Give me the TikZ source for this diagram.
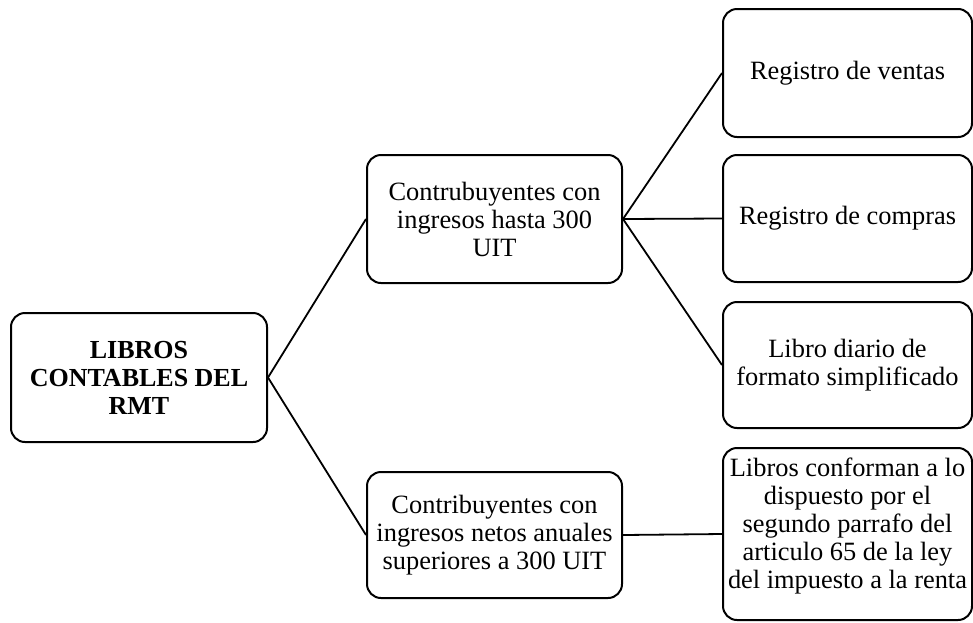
\documentclass[tikz,border=0pt]{standalone}
\usepackage{fontspec}
\setmainfont{Liberation Serif}
\begin{document}
\begin{tikzpicture}[x=1pt,y=-1pt,
  box/.style={draw=black, line width=2pt, rounded corners=14pt, fill=white,
    align=center, inner sep=0pt, font=\fontsize{26.4}{28}\selectfont},
  txt/.style={align=center, inner sep=0pt, font=\fontsize{26.4}{28}\selectfont},
  link/.style={draw=black, line width=1.8pt}]
\useasboundingbox (0,0) rectangle (973,622);
\node[box, minimum width=256pt, minimum height=129pt, font=\fontsize{26}{28}\selectfont\bfseries] (root) at (139,377.5) {LIBROS\\CONTABLES DEL\\RMT};
\node[box, minimum width=255pt, minimum height=128pt] (m1) at (494.5,219) {Contrubuyentes con\\ingresos hasta 300\\UIT};
\node[box, minimum width=255pt, minimum height=126pt] (m2) at (494.5,535) {Contribuyentes con\\ingresos netos anuales\\superiores a 300 UIT};
\node[box, minimum width=249pt, minimum height=128pt] (r1) at (847.5,73) {Registro de ventas};
\node[box, minimum width=249pt, minimum height=127pt] (r2) at (847.5,218.5) {Registro de compras};
\node[box, minimum width=249pt, minimum height=126pt] (r3) at (847.5,365) {Libro diario de\\formato simplificado};
\node[box, minimum width=249pt, minimum height=172pt] (r4) at (847.5,534) {};
\node[txt] (r4t) at (847.5,526) {Libros conforman a lo\\dispuesto por el\\segundo parrafo del\\articulo 65 de la ley\\del impuesto a la renta};
\draw[link] (root.east) -- (m1.west);
\draw[link] (root.east) -- (m2.west);
\draw[link] (m1.east) -- (r1.west);
\draw[link] (m1.east) -- (r2.west);
\draw[link] (m1.east) -- (r3.west);
\draw[link] (m2.east) -- (r4.west);
\end{tikzpicture}
\end{document}
